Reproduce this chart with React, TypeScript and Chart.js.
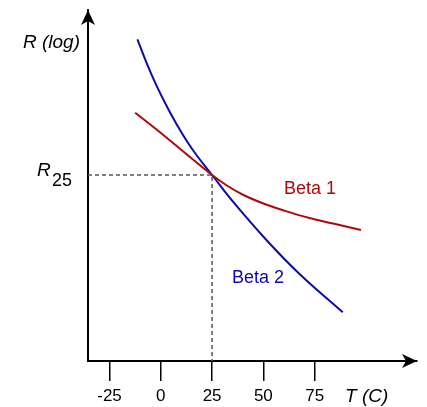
import React, { useEffect, useRef } from "react";
import { Chart, registerables } from "chart.js";

Chart.register(...registerables);

// Data (temperature in °C, resistance on an arbitrary log scale)
const beta2T = [-11.4, -6.85, -1.98, 2.9, 7.78, 12.66, 17.54, 25, 35.4, 51.7, 67.9, 88.7];
const beta2LogR = [321.7, 297.7, 274.8, 254.8, 236.5, 220, 205.5, 186, 158.8, 120.5, 86.5, 48.7];
const beta1T = [-12.5, -3.6, 4.5, 12.7, 25, 32.2, 40.3, 50, 60, 72, 84, 97.6];
const beta1LogR = [248.3, 234, 220.5, 206.5, 186, 175.5, 166, 157.5, 150.5, 143.2, 137.5, 131];
const xTicks = [-25, 0, 25, 50, 75];
const T25 = 25;
const R25 = 186;
const xMin = -35.5;
const xMax = 124.9;
const yMin = 0;
const yMax = 351;

const FONT = "'Liberation Sans', Arial, sans-serif";
const BLUE = "#0b0ba6";
const RED = "#ad0a0a";

const toPts = (xs: number[], ys: number[]) => xs.map((x, i) => ({ x, y: ys[i] }));

const overlay = {
  id: "overlay",
  afterDraw(chart: any) {
    const ctx = chart.ctx;
    const xs = chart.scales.x;
    const ys = chart.scales.y;
    ctx.save();
    ctx.fillStyle = "#000";
    // x arrow
    const ay = ys.getPixelForValue(yMin);
    const ax = xs.getPixelForValue(xMax);
    ctx.beginPath();
    ctx.moveTo(ax, ay);
    ctx.lineTo(ax - 15, ay - 7);
    ctx.lineTo(ax - 11, ay);
    ctx.lineTo(ax - 15, ay + 7);
    ctx.closePath();
    ctx.fill();
    // y arrow
    const bx = xs.getPixelForValue(xMin);
    const by = ys.getPixelForValue(yMax);
    ctx.beginPath();
    ctx.moveTo(bx, by);
    ctx.lineTo(bx - 7, by + 15);
    ctx.lineTo(bx, by + 11);
    ctx.lineTo(bx + 7, by + 15);
    ctx.closePath();
    ctx.fill();

    // texts
    ctx.textBaseline = "alphabetic";
    ctx.fillStyle = "#000";
    ctx.textAlign = "right";
    ctx.font = `italic 19px ${FONT}`;
    ctx.fillText("R (log)", 80, 48);

    ctx.textAlign = "left";
    ctx.font = `italic 19px ${FONT}`;
    ctx.fillText("R", 37, 176);
    ctx.font = `18px ${FONT}`;
    ctx.fillText("25", 52, 186);

    ctx.font = `italic 19px ${FONT}`;
    ctx.fillText("T (C)", 345, 402);

    ctx.font = `18px ${FONT}`;
    ctx.fillStyle = RED;
    ctx.fillText("Beta 1", 284, 194);
    ctx.fillStyle = BLUE;
    ctx.fillText("Beta 2", 232, 283);
    ctx.restore();
  },
};

export default function App() {
  const ref = useRef<HTMLCanvasElement | null>(null);
  useEffect(() => {
    if (!ref.current) return;
    const chart = new Chart(ref.current, {
      type: "line",
      data: {
        datasets: [
          {
            label: "R25 guide",
            data: [
              { x: xMin, y: R25 },
              { x: T25, y: R25 },
              { x: T25, y: yMin },
            ],
            borderColor: "#555",
            borderWidth: 1.5,
            borderDash: [4, 3],
            pointRadius: 0,
            tension: 0,
          },
          {
            label: "Beta 1",
            data: toPts(beta1T, beta1LogR),
            borderColor: RED,
            borderWidth: 2,
            pointRadius: 0,
            tension: 0.4,
          },
          {
            label: "Beta 2",
            data: toPts(beta2T, beta2LogR),
            borderColor: BLUE,
            borderWidth: 2,
            pointRadius: 0,
            tension: 0.4,
          },
        ],
      },
      options: {
        responsive: false,
        animation: false,
        events: [],
        layout: { padding: { left: 88, right: 10, top: 10, bottom: 0 } },
        plugins: { legend: { display: false }, tooltip: { enabled: false } },
        scales: {
          x: {
            type: "linear",
            min: xMin,
            max: xMax,
            afterBuildTicks: (s: any) => {
              s.ticks = xTicks.map((v) => ({ value: v }));
            },
            afterFit: (s: any) => {
              s.height = 46;
            },
            grid: {
              drawOnChartArea: false,
              drawTicks: true,
              tickLength: 20,
              color: "#000",
              lineWidth: 1.5,
            },
            border: { display: true, color: "#000", width: 2 },
            ticks: {
              color: "#000",
              font: { family: FONT, size: 17 },
              padding: 5,
              maxRotation: 0,
              autoSkip: false,
            },
          },
          y: {
            type: "linear",
            min: yMin,
            max: yMax,
            afterFit: (s: any) => {
              s.width = 0;
            },
            grid: { drawOnChartArea: false, drawTicks: false },
            border: { display: true, color: "#000", width: 2 },
            ticks: { display: false },
          },
        },
      },
      plugins: [overlay],
    } as any);
    return () => chart.destroy();
  }, []);
  return (
    <div style={{ position: "absolute", left: 0, top: 0, width: 427, height: 407, background: "#fff" }}>
      <canvas ref={ref} width={427} height={407} style={{ display: "block" }} />
    </div>
  );
}
